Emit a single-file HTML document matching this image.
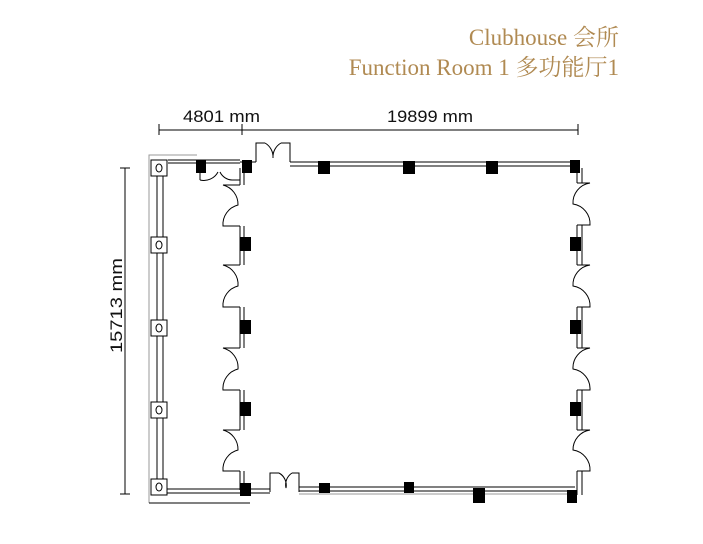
<!DOCTYPE html>
<html><head><meta charset="utf-8"><style>
html,body{margin:0;padding:0;background:#fff;width:703px;height:544px;overflow:hidden}
svg{display:block}
</style></head><body>
<svg width="703" height="544" viewBox="0 0 703 544" xmlns="http://www.w3.org/2000/svg">
<g font-family="'Liberation Serif','Noto Serif CJK SC',serif" fill="#b08a52" font-size="23" text-anchor="end">
<text x="619" y="45">Clubhouse 会所</text>
<text x="619" y="75">Function Room 1 多功能厅1</text>
</g>
<g font-family="'Liberation Sans',sans-serif" fill="#111" font-size="17">
<text x="183" y="122" textLength="77" lengthAdjust="spacingAndGlyphs">4801 mm</text>
<text x="387" y="122" textLength="86" lengthAdjust="spacingAndGlyphs">19899 mm</text>
<text transform="translate(122,353) rotate(-90)" textLength="95" lengthAdjust="spacingAndGlyphs">15713 mm</text>
</g>
<g stroke="#000" stroke-width="1" fill="none">
<!-- dimensions -->
<line x1="159" y1="130" x2="578" y2="130"/>
<line x1="159" y1="124" x2="159" y2="135"/>
<line x1="242" y1="124" x2="242" y2="135"/>
<line x1="578" y1="124" x2="578" y2="135"/>
<line x1="125" y1="168" x2="125" y2="494"/>
<line x1="120" y1="168" x2="130" y2="168"/>
<line x1="120" y1="494" x2="130" y2="494"/>
<!-- left outer frame -->
<path d="M149 503 V155 H197" stroke="#999"/>
<path d="M149 503 H250" stroke="#000"/>
<line x1="157" y1="175" x2="157" y2="482"/>
<line x1="163" y1="175" x2="163" y2="482"/>
<!-- top wall left part -->
<line x1="168" y1="160" x2="240" y2="160"/>
<line x1="168" y1="163" x2="240" y2="163"/>
<!-- top main wall -->
<path d="M256 162 V143 H265 M281 143 H290 V162"/>
<path d="M265 143 A16 16 0 0 1 273 158 A16 16 0 0 1 281 143"/>
<line x1="290" y1="162" x2="578" y2="162"/>
<line x1="290" y1="166" x2="578" y2="166"/>
<line x1="240" y1="162" x2="256" y2="162"/>
<!-- bottom wall -->
<line x1="163" y1="489" x2="240" y2="489"/>
<line x1="163" y1="493" x2="240" y2="493"/>
<path d="M270 492 V473 H279 M292 473 H299 V492"/>
<path d="M279 473 A14 14 0 0 1 286 488 A14 14 0 0 1 292 473"/>
<line x1="250" y1="489" x2="270" y2="489"/>
<line x1="250" y1="493" x2="270" y2="493"/>
<line x1="299" y1="487" x2="575" y2="487"/>
<line x1="299" y1="491" x2="575" y2="491"/>
<line x1="299" y1="494" x2="575" y2="494" stroke="#999"/>
<!-- left inner wall segments -->
<path d="M240 168 V185 M240 226 V265 M240 307 V348 M240 390 V430 M240 471 V490"/>
<path d="M244 168 V185 M244 226 V265 M244 307 V348 M244 390 V430 M244 471 V490"/>
<!-- right wall -->
<path d="M577 168 V183 M577 225 V265 M577 307 V348 M577 390 V430 M577 471 V495"/>
<path d="M582 168 V183 M582 225 V265 M582 307 V348 M582 390 V430 M582 471 V495"/>
<!-- door by top-left -->
<path d="M200 168 V180 M240 180 H232 A14 14 0 0 1 220 172"/>
<path d="M200 180 A16 16 0 0 0 218 172"/>
</g>
<!-- left doors -->
<g stroke="#000" stroke-width="1" fill="none">
<path d="M240 185 H223 A20 20 0 0 1 238 205 A20 20 0 0 0 223 226 H240"/>
<path d="M240 265 H223 A20 20 0 0 1 238 286 A20 20 0 0 0 223 307 H240"/>
<path d="M240 348 H223 A20 20 0 0 1 238 369 A20 20 0 0 0 223 390 H240"/>
<path d="M240 430 H223 A20 20 0 0 1 238 450 A20 20 0 0 0 223 471 H240"/>
<!-- right doors -->
<path d="M577 183 H590 A20 20 0 0 0 573 204 A20 20 0 0 1 590 225 H577"/>
<path d="M577 265 H590 A20 20 0 0 0 573 286 A20 20 0 0 1 590 307 H577"/>
<path d="M577 348 H590 A20 20 0 0 0 573 369 A20 20 0 0 1 590 390 H577"/>
<path d="M577 430 H590 A20 20 0 0 0 573 450 A20 20 0 0 1 590 471 H577"/>
</g>
<!-- circle columns -->
<g stroke="#000" fill="#fff">
<rect x="151" y="160" width="16" height="16"/>
<rect x="151" y="237" width="16" height="16"/>
<rect x="151" y="320" width="16" height="16"/>
<rect x="151" y="402" width="16" height="16"/>
<rect x="151" y="479" width="16" height="16"/>
<g fill="none"><ellipse cx="159" cy="168" rx="3" ry="4"/><ellipse cx="159" cy="245" rx="3" ry="4"/><ellipse cx="159" cy="328" rx="3" ry="4"/><ellipse cx="159" cy="410" rx="3" ry="4"/><ellipse cx="159" cy="487" rx="3" ry="4"/></g>
</g>
<!-- black columns -->
<g fill="#000">
<rect x="196" y="160" width="10" height="13"/>
<rect x="242" y="160" width="10" height="13"/>
<rect x="318" y="161" width="12" height="13"/>
<rect x="403" y="161" width="12" height="13"/>
<rect x="486" y="161" width="12" height="13"/>
<rect x="570" y="160" width="10" height="13"/>
<rect x="240" y="237" width="11" height="14"/>
<rect x="240" y="320" width="11" height="14"/>
<rect x="240" y="402" width="11" height="14"/>
<rect x="570" y="237" width="11" height="14"/>
<rect x="570" y="320" width="11" height="14"/>
<rect x="570" y="402" width="11" height="14"/>
<rect x="240" y="483" width="11" height="13"/>
<rect x="319" y="483" width="11" height="10"/>
<rect x="404" y="482" width="10" height="11"/>
<rect x="473" y="488" width="12" height="15"/>
<rect x="567" y="490" width="10" height="13"/>
</g>
</svg>
</body></html>
